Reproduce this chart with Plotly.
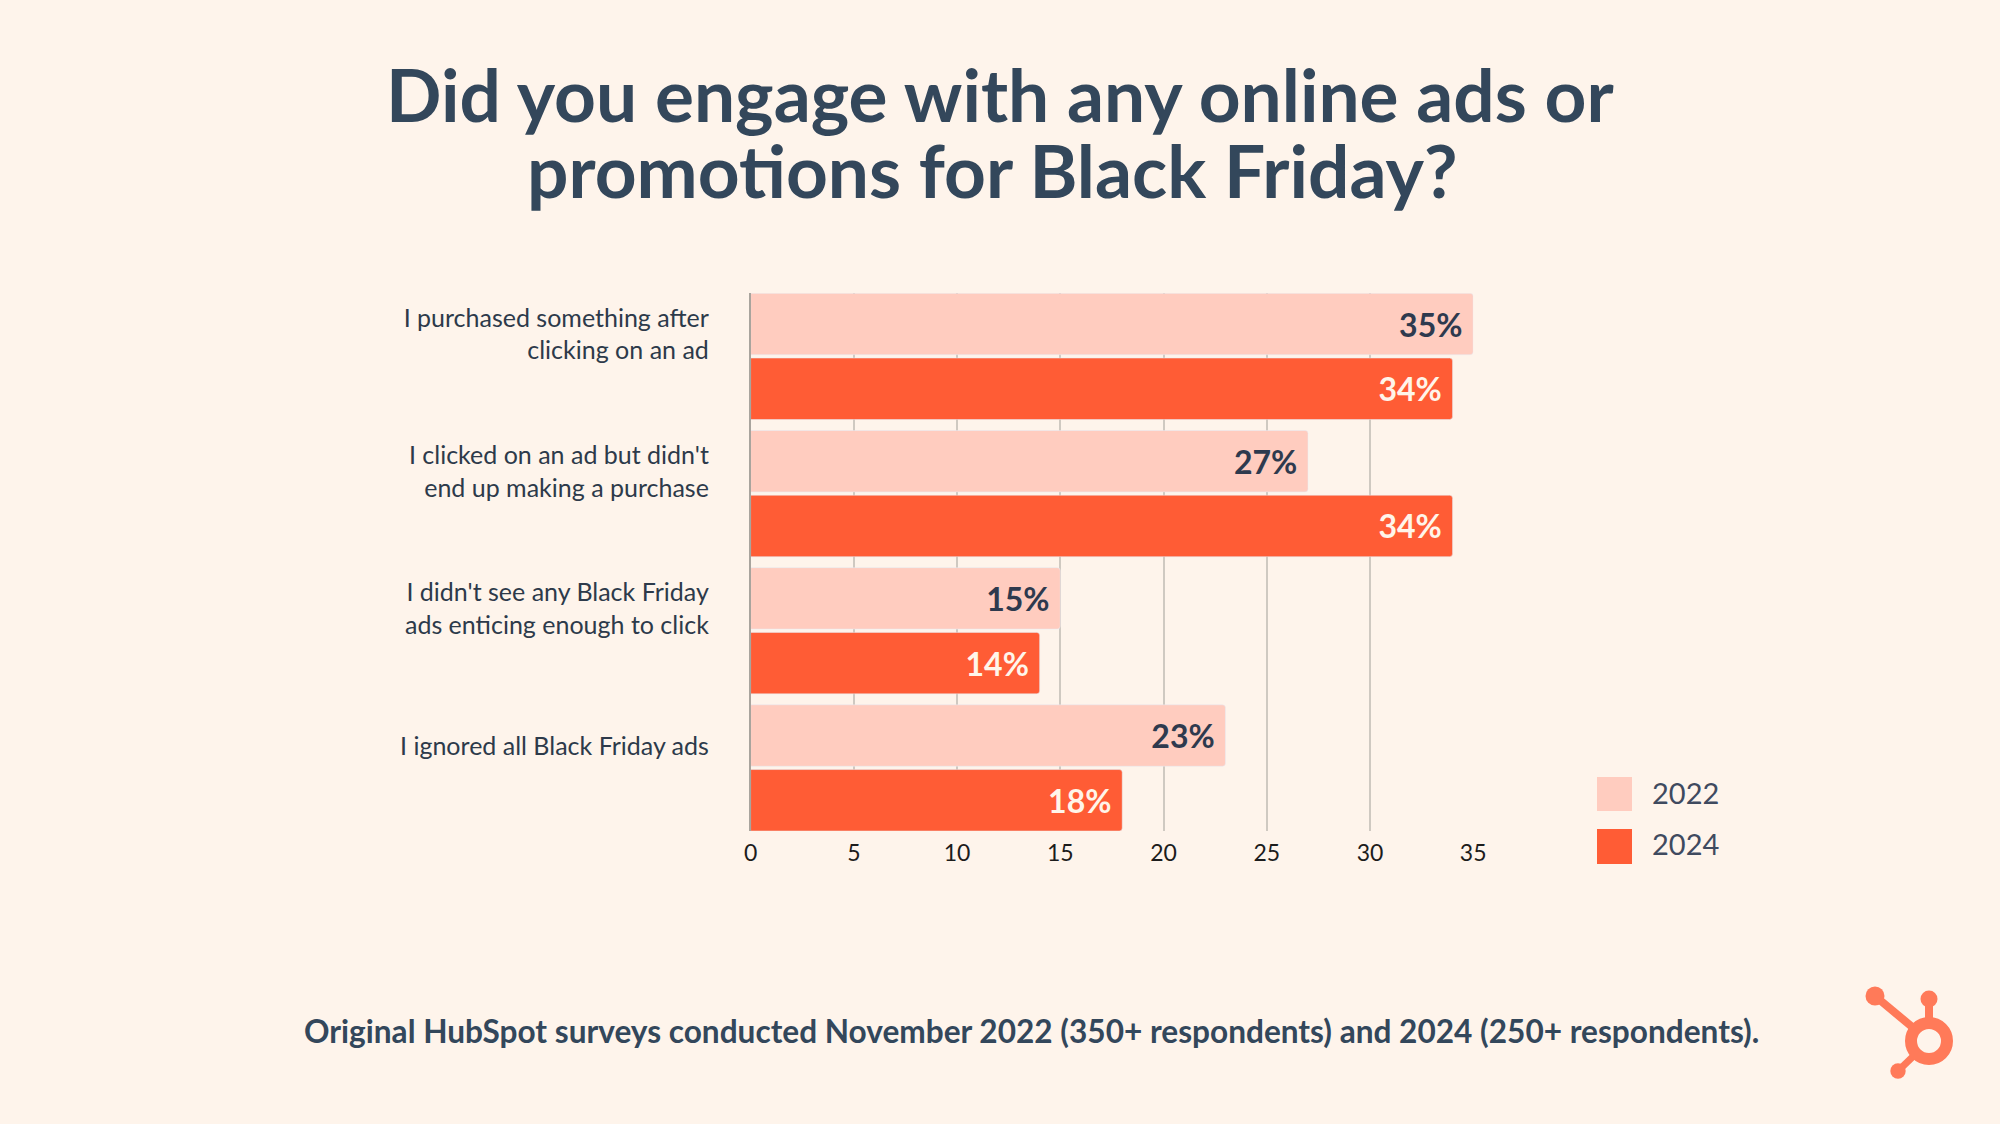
import plotly.graph_objects as go

W, H = 2000, 1124

categories = [
    "I purchased something after<br>clicking on an ad",
    "I clicked on an ad but didn't<br>end up making a purchase",
    "I didn't see any Black Friday<br>ads enticing enough to click",
    "I ignored all Black Friday ads",
]
values_2022 = [35, 27, 15, 23]
values_2024 = [34, 34, 14, 18]
x_ticks = [0, 5, 10, 15, 20, 25, 30, 35]

BG = "#fef4eb"
LIGHT = "#ffccbf"
ORANGE = "#ff5c35"
LOGO = "#ff7a59"
NAVY = "#33475b"
FONT = "Lato"


def px_x(v):
    return v / W


def px_y(v):
    return 1 - v / H


def circle(cx, cy, r, fill=LOGO, line=None):
    return dict(type="circle", xref="paper", yref="paper",
                x0=px_x(cx - r), x1=px_x(cx + r), y0=px_y(cy - r), y1=px_y(cy + r),
                fillcolor=fill, line=line or dict(width=0))


def stem(x0, y0, x1, y1, width):
    return dict(type="line", xref="paper", yref="paper",
                x0=px_x(x0), x1=px_x(x1), y0=px_y(y0), y1=px_y(y1),
                line=dict(color=LOGO, width=width))


def swatch(x0, y0, x1, y1, color):
    return dict(type="rect", xref="paper", yref="paper",
                x0=px_x(x0), x1=px_x(x1), y0=px_y(y0), y1=px_y(y1),
                fillcolor=color, line_width=0)


def label(text, x, y, size, color, anchor="center", weight=400):
    return dict(text=text, xref="paper", yref="paper", x=px_x(x), y=px_y(y),
                xanchor=anchor, yanchor="middle", showarrow=False,
                font=dict(size=size, color=color, family=FONT, weight=weight))


fig = go.Figure()
fig.add_bar(
    y=categories, x=values_2022, name="2022", orientation="h",
    marker=dict(color=LIGHT, cornerradius=3),
    texttemplate="%{x}%\u00a0", textposition="inside", insidetextanchor="end",
    textangle=0, constraintext="none", cliponaxis=False,
    textfont=dict(color="#2e3a4e", size=32, family=FONT, weight=700),
)
fig.add_bar(
    y=categories, x=values_2024, name="2024", orientation="h",
    marker=dict(color=ORANGE, cornerradius=3),
    texttemplate="%{x}%\u00a0", textposition="inside", insidetextanchor="end",
    textangle=0, constraintext="none", cliponaxis=False,
    textfont=dict(color="#fff5ea", size=32, family=FONT, weight=700),
)

fig.update_layout(
    width=W, height=H,
    margin=dict(l=0, r=0, t=0, b=0, autoexpand=False),
    paper_bgcolor=BG, plot_bgcolor=BG,
    barmode="group", bargap=0.056, bargroupgap=0.051,
    showlegend=False,
    font=dict(family=FONT),
    shapes=[
        swatch(1597, 777, 1632, 811, LIGHT),
        swatch(1597, 829, 1632, 864, ORANGE),
        stem(1875, 996, 1929, 1041, 8),
        stem(1929, 999, 1929, 1041, 8),
        stem(1898, 1071, 1929, 1041, 7),
        circle(1875, 996, 9.5),
        circle(1929, 999, 8.5),
        circle(1898, 1071, 7.7),
        circle(1929, 1041, 18, fill=BG, line=dict(color=LOGO, width=12)),
    ],
    annotations=[
        label("Did you engage with any online ads or", 1000, 94, 73, NAVY, weight=700),
        label("promotions for Black Friday?", 992, 170, 73, NAVY, weight=700),
        label("2022", 1650, 792, 29, "#3f4a5f", anchor="left"),
        label("2024", 1650, 843, 29, "#3f4a5f", anchor="left"),
        label("Original HubSpot surveys conducted November 2022 (350+ respondents) and 2024 (250+ respondents).",
              1031, 1031, 31.6, NAVY, weight=700),
    ],
)

fig.update_xaxes(
    domain=[px_x(750.6), px_x(1473.2)], range=[0, 35],
    tickmode="array", tickvals=x_ticks, showgrid=True,
    gridcolor="#cfc9c1", gridwidth=1.5, zeroline=False,
    showline=False, ticks="", tickfont=dict(size=23, color="#1c1c1c", family=FONT),
    ticklabelstandoff=6,
)
fig.update_yaxes(
    domain=[px_y(831), px_y(293.3)], range=[3.46, -0.46],
    showgrid=False, zeroline=False, showline=True, linecolor="#a9a49d", linewidth=1.5,
    ticks="", ticklabelstandoff=35, ticklabelshift=22,
    tickfont=dict(size=25, color="#2d3a4a", family=FONT),
)

fig.write_html("out.html", config=dict(displayModeBar=False),
               post_script="document.body.style.margin='0'")
